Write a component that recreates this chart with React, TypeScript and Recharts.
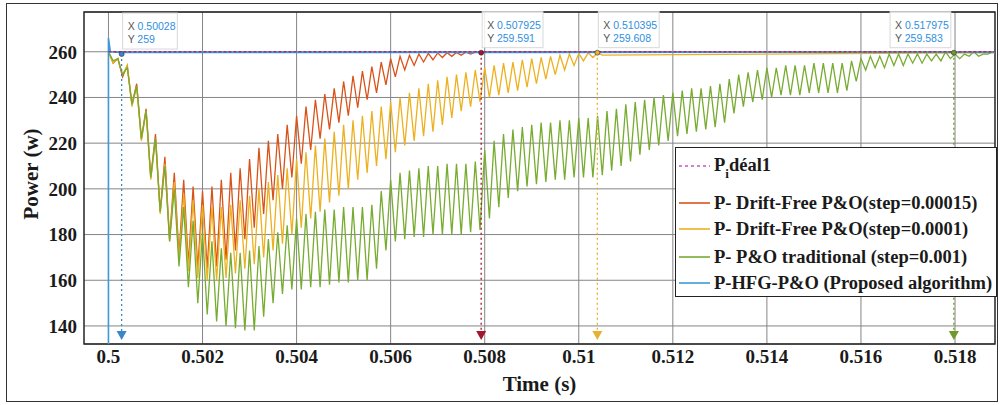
import React from 'react'
import { LineChart, Line, XAxis, YAxis, CartesianGrid, ReferenceLine, ReferenceDot, ReferenceArea } from 'recharts'

const SERIF = '"Liberation Serif", "Times New Roman", serif'
const SANS = '"Liberation Sans", Arial, sans-serif'

const X_MIN = 0.49948
const X_MAX = 0.51885
const Y_MIN = 132.1
const Y_MAX = 277.4

// switching ripple: one peak every 0.0002 s, troughs half way between
const T0 = 0.5
const HALF = 0.0001

const xTicks = [0.5, 0.502, 0.504, 0.506, 0.508, 0.51, 0.512, 0.514, 0.516, 0.518]
const yTicks = [140, 160, 180, 200, 220, 240, 260]

// P- Drift-Free P&O (step=0.00015)
const redPeaks = [
  260, 257, 254, 246, 235, 224, 214, 207, 204, 201,
  199, 201, 204, 207, 209, 213, 218, 221, 224, 228,
  232, 236, 239, 241.5, 244, 247, 249.5, 251.5, 253.5, 255.5,
  257, 258, 258.5, 259, 259.3, 259.5, 259.6, 259.7, 259.8, 259.8,
]
const redTroughs = [
  255, 249, 237, 222, 205, 190, 178, 171, 167, 165,
  165, 166, 169, 173, 178, 183, 189, 195, 200, 205,
  211, 217, 222, 226, 229, 232, 235.5, 239, 242, 245.5,
  249, 252, 254, 255.5, 256.5, 257.5, 258, 258.5, 259,
]
const redSettled = 259.6

// P- Drift-Free P&O (step=0.0001)
const yellowPeaks = [
  260, 257, 254, 245, 234, 222, 211, 203, 198, 195,
  193, 192, 192, 193, 195, 197, 200, 203, 206, 209,
  213, 216, 219, 222, 225, 228, 230, 232, 234, 236,
  238, 240, 242, 244, 246, 247.5, 249, 250, 251, 252,
  253, 254, 255, 255.5, 256.5, 257, 257.5, 258, 258.5, 259,
  259.3, 259.5, 259.6,
]
const yellowTroughs = [
  255, 250, 236, 221, 204, 189, 177, 169, 164, 161,
  160, 160, 161, 163, 165, 167, 170, 173, 176, 180,
  183, 187, 190, 194, 197, 200, 204, 207, 210, 213,
  216, 219, 221, 223, 225, 228, 231, 234, 236, 238,
  240, 241, 242, 243, 244.5, 246, 248, 250, 252, 254,
  256, 257.5, 258.5,
]
const yellowSettled = 259.6

// P- P&O traditional (step=0.001)
const greenPeaks = [
  260, 257, 253, 245, 234, 222, 210, 200, 192, 186,
  181, 177, 174, 172, 172, 173, 175, 178, 181, 184,
  187, 189, 190, 191, 191, 192, 192, 192, 193, 199,
  204, 207, 208, 209, 210, 210, 211, 211, 211, 212,
  217, 221, 224, 226, 227, 228, 229, 229, 230, 230,
  231, 231, 232, 234, 235, 237, 238, 239, 240, 241,
  242, 243, 244, 244, 245, 246, 248, 250, 251, 252,
  253, 253, 254, 254, 254, 255, 255, 255, 255, 256,
  257, 258, 258, 259, 259, 259, 259, 259, 259, 260,
  259, 259, 260, 259, 260,
]
const greenTroughs = [
  256, 250, 237, 222, 205, 190, 177, 166, 157, 150,
  145, 142, 140, 139, 138, 138, 144, 150, 154, 156,
  156, 157, 157, 158, 159, 159, 160, 160, 165, 173,
  177, 178, 179, 179, 180, 180, 180, 180, 181, 182,
  187, 192, 196, 199, 201, 202, 203, 204, 204, 205,
  205, 205, 206, 208, 210, 212, 215, 217, 219, 221,
  223, 224, 225, 226, 227, 229, 233, 236, 238, 239,
  240, 241, 241, 241, 242, 242, 242, 242, 243, 247,
  252, 253, 253, 254, 254, 255, 255, 256, 256, 257,
  257, 258, 258, 259,
]
const greenSettled = 259.5

// P-HFG-P&O (proposed)
const hfgTimes = [0.5, 0.5, 0.50004, 0.50028, X_MAX]
const hfgPower = [125, 266, 260, 259.7, 259.8]

// P ideal
const idealTimes = [0.5, X_MAX]
const idealPower = [260, 260]

// data tips
const tipTimes = [0.50028, 0.507925, 0.510395, 0.517975]
const tipPower = [259, 259.591, 259.608, 259.583]
const tipXText = ['0.50028', '0.507925', '0.510395', '0.517975']
const tipYText = ['259', '259.591', '259.608', '259.583']
const tipColors = ['#3a86c8', '#a2142f', '#e3b231', '#6f9a2a']
const tipLeft = [false, false, false, true]

const COLORS = {
  ideal: '#9a2f8c',
  red: '#d95319',
  yellow: '#edb120',
  green: '#77ac30',
  hfg: '#3c9bd6',
}

const seriesNames = [
  'P- Drift-Free P&O(step=0.00015)',
  'P- Drift-Free P&O(step=0.0001)',
  'P- P&O traditional (step=0.001)',
  'P-HFG-P&O (Proposed algorithm)',
]

function zigzag(key: string, peaks: number[], troughs: number[], settled: number) {
  const rows: any[] = []
  const n = peaks.length + troughs.length
  for (let k = 0; k < n; k++) {
    const v = k % 2 === 0 ? peaks[k / 2] : troughs[(k - 1) / 2]
    rows.push({ t: T0 + k * HALF, [key]: v })
  }
  rows.push({ t: X_MAX, [key]: settled })
  return rows
}

function points(key: string, times: number[], values: number[]) {
  return times.map((t, i) => ({ t, [key]: values[i] }))
}

const data = [
  ...points('ideal', idealTimes, idealPower),
  ...zigzag('red', redPeaks, redTroughs, redSettled),
  ...zigzag('yellow', yellowPeaks, yellowTroughs, yellowSettled),
  ...zigzag('green', greenPeaks, greenTroughs, greenSettled),
  ...points('hfg', hfgTimes, hfgPower),
].sort((a, b) => a.t - b.t)

const fmtX = (v: number) => String(+v.toFixed(3))

const tipBox = (i: number) => (props: any) => {
  const { cx, cy } = props
  const w = 12 + Math.max(tipXText[i].length, tipYText[i].length) * 6.1
  const bx = tipLeft[i] ? cx - w - 3 : cx + 1
  return (
    <g>
      <rect x={bx} y={cy - 41} width={w} height={36} fill="#ffffff" fillOpacity={0.85} stroke="#d8d8d8" strokeWidth={1} />
      <text x={bx + 5} y={cy - 24} fontFamily={SANS} fontSize={10.5}>
        <tspan fill="#555">X </tspan>
        <tspan fill="#2f8fe0">{tipXText[i]}</tspan>
      </text>
      <text x={bx + 5} y={cy - 11} fontFamily={SANS} fontSize={10.5}>
        <tspan fill="#555">Y </tspan>
        <tspan fill="#2f8fe0">{tipYText[i]}</tspan>
      </text>
      <circle cx={cx} cy={cy} r={2.5} fill={tipColors[i]} stroke="#333" strokeWidth={0.6} />
    </g>
  )
}

const tipMarker = (i: number) => (props: any) => {
  const { cx, cy } = props
  return <polygon points={`${cx - 5},${cy - 5} ${cx + 5},${cy - 5} ${cx},${cy + 4}`} fill={tipColors[i]} />
}

function LegendBox() {
  const rowTop = [18, 55, 81, 109, 135]
  const colors = [COLORS.red, COLORS.yellow, COLORS.green, COLORS.hfg]
  const textStyle: React.CSSProperties = {
    position: 'absolute', left: 38, fontFamily: SERIF, fontWeight: 700, fontSize: 18.5,
    lineHeight: '20px', color: '#1a1a1a', whiteSpace: 'nowrap', transform: 'translateY(-50%)',
  }
  return (
    <div style={{ position: 'absolute', left: 675, top: 147, width: 322, height: 150, boxSizing: 'border-box', border: '1.5px solid #222', background: '#fff' }}>
      <svg width={36} height={150} style={{ position: 'absolute', left: 0, top: 0 }}>
        <line x1={3} x2={34} y1={rowTop[0]} y2={rowTop[0]} stroke="#d97fcf" strokeWidth={2} strokeDasharray="3 3" />
        {colors.map((c, i) => (
          <line key={i} x1={3} x2={34} y1={rowTop[i + 1]} y2={rowTop[i + 1]} stroke={c} strokeWidth={1.6} />
        ))}
      </svg>
      <div style={{ ...textStyle, top: rowTop[0] }}>
        P<span style={{ fontSize: 13, position: 'relative', top: 7 }}>i</span>déal1
      </div>
      {seriesNames.map((n, i) => (
        <div key={n} style={{ ...textStyle, top: rowTop[i + 1] }}>{n}</div>
      ))}
    </div>
  )
}

export default function App() {
  return (
    <div style={{ position: 'absolute', left: 0, top: 0, width: 1000, height: 405, background: '#fff' }}>
      <LineChart width={1000} height={405} data={data} margin={{ top: 12, right: 5, bottom: 11, left: 24 }}>
        <CartesianGrid stroke="#858585" strokeWidth={1} />
        <XAxis
          type="number"
          dataKey="t"
          domain={[X_MIN, X_MAX]}
          ticks={xTicks}
          allowDataOverflow
          tickFormatter={fmtX}
          tickLine={false}
          axisLine={false}
          tickMargin={0}
          height={50}
          tick={{ fontFamily: SERIF, fontWeight: 700, fontSize: 19, fill: '#1a1a1a' }}
          label={{ value: 'Time (s)', position: 'insideBottom', offset: 3, style: { fontFamily: SERIF, fontWeight: 700, fontSize: 21, fill: '#1a1a1a' } }}
        />
        <YAxis
          type="number"
          domain={[Y_MIN, Y_MAX]}
          ticks={yTicks}
          allowDataOverflow
          tickLine={false}
          axisLine={false}
          tickMargin={1}
          width={60}
          tick={{ fontFamily: SERIF, fontWeight: 700, fontSize: 19, fill: '#1a1a1a' }}
          label={{
            content: (p: any) => {
              const vb = p.viewBox
              const x = vb.x + 7
              const y = vb.y + vb.height / 2 - 4
              return (
                <text x={x} y={y} transform={`rotate(-90 ${x} ${y})`} textAnchor="middle" dominantBaseline="central"
                  fontFamily={SERIF} fontWeight={700} fontSize={21} fill="#1a1a1a">Power (w)</text>
              )
            },
          }}
        />
        <ReferenceArea x1={X_MIN} x2={X_MAX} y1={Y_MIN} y2={Y_MAX} fill="none" stroke="#222" strokeWidth={1.3} ifOverflow="visible" />
        <Line type="linear" dataKey="red" stroke={COLORS.red} strokeWidth={1.3} dot={false} connectNulls isAnimationActive={false} />
        <Line type="linear" dataKey="yellow" stroke={COLORS.yellow} strokeWidth={1.3} dot={false} connectNulls isAnimationActive={false} />
        <Line type="linear" dataKey="green" stroke={COLORS.green} strokeWidth={1.3} dot={false} connectNulls isAnimationActive={false} />
        <Line type="linear" dataKey="hfg" stroke={COLORS.hfg} strokeWidth={1.6} dot={false} connectNulls isAnimationActive={false} />
        <Line type="linear" dataKey="ideal" stroke={COLORS.ideal} strokeWidth={1.5} strokeDasharray="3 2" dot={false} connectNulls isAnimationActive={false} />
        {tipTimes.map((t, i) => (
          <ReferenceLine key={'l' + i} segment={[{ x: t, y: tipPower[i] }, { x: t, y: 137 }]} stroke={tipColors[i]} strokeWidth={1.3} strokeDasharray="2 3" ifOverflow="visible" />
        ))}
        {tipTimes.map((t, i) => (
          <ReferenceDot key={'m' + i} x={t} y={135.6} r={5} shape={tipMarker(i)} ifOverflow="visible" />
        ))}
        {tipTimes.map((t, i) => (
          <ReferenceDot key={'b' + i} x={t} y={tipPower[i]} r={3} shape={tipBox(i)} ifOverflow="visible" />
        ))}
      </LineChart>
      <LegendBox />
      <div style={{ position: 'absolute', left: 6, top: 3, width: 992, height: 399, boxSizing: 'border-box', border: '1.5px solid #333', pointerEvents: 'none' }} />
    </div>
  )
}
